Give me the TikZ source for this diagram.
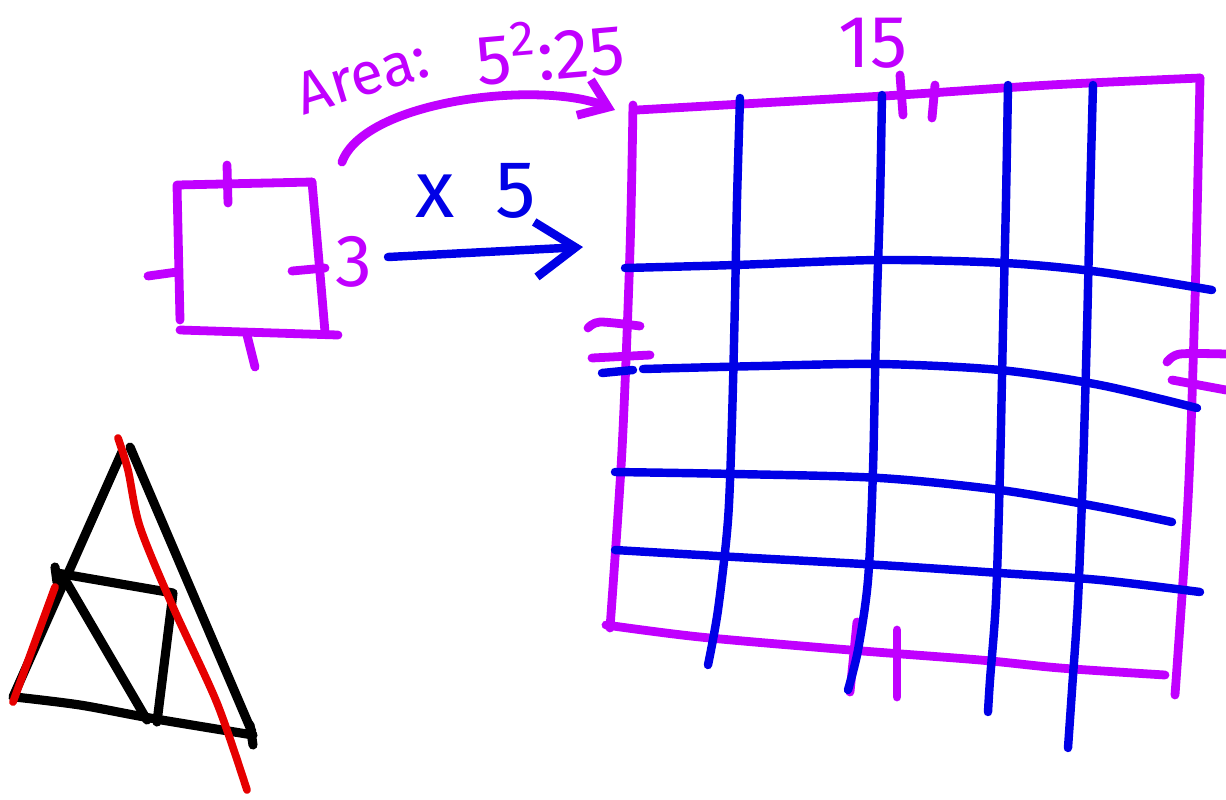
\documentclass[tikz,border=0pt]{standalone}
\usepackage{fontspec}
\setmainfont{Fira Sans}
\usetikzlibrary{arrows.meta, positioning}
\definecolor{penmagenta}{RGB}{192, 0, 255}
\definecolor{penblue}{RGB}{0, 0, 230}
\definecolor{penred}{RGB}{230, 0, 0}

\begin{document}
\begin{tikzpicture}[x=0.01cm, y=-0.01cm,
    magpen/.style={draw=penmagenta, line width=2.5pt, line cap=round, line join=round},
    bluepen/.style={draw=penblue, line width=2.4pt, line cap=round, line join=round},
    blackpen/.style={draw=black, line width=2.6pt, line cap=round, line join=round},
    redpen/.style={draw=penred, line width=2.2pt, line cap=round, line join=round},
    handtext/.style={inner sep=0pt}]
    \useasboundingbox (0,0) rectangle (1226,799);

    % Small Square
    \draw[magpen] (180,320) -- (177,185) -- (312,182);
    \draw[magpen] plot[smooth] coordinates {(312,182) (318,250) (325,332)};
    \draw[magpen] (180,330) -- (338,335);
    \draw[magpen] (227,165) -- (228,203);
    \draw[magpen] (148,276) -- (177,272);
    \draw[magpen] (292,271) -- (325,268);
    \draw[magpen] (247,335) -- (255,367);
    \node[handtext, text=penmagenta, font=\fontsize{21}{21}\selectfont] (sideshort) at (354,262) {3};

    % Scale Arrow
    \coordinate (sqright) at (388,257);
    \coordinate (gridleft) at (583,247);
    \draw[bluepen, -{Straight Barb[length=4mm, width=5.5mm]}] (sqright) -- (gridleft);
    \node[handtext, text=penblue, font=\fontsize{23}{23}\selectfont] (factor) at (476,191) {x\enspace 5};

    % Area Arrow
    \coordinate (arcstart) at (342,162);
    \coordinate (arcend) at (615,110);
    \draw[magpen, -{Straight Barb[length=2.6mm, width=3.8mm]}] (arcstart) .. controls (365,100) and (540,80) .. (arcend);
    \node[handtext, text=penmagenta, rotate=17, font=\fontsize{17}{17}\selectfont] (arealabel) at (362,76) {Area:};
    \node[handtext, text=penmagenta, rotate=5, font=\fontsize{20}{20}\selectfont] (areavalue) at (550,50) {5\textsuperscript{2}:25};

    % Big Grid Frame
    \draw[magpen] plot[smooth] coordinates {(637,110) (760,103) (900,95) (1050,85) (1200,78)};
    \draw[magpen] plot[smooth] coordinates {(633,105) (630,250) (622,450) (610,628)};
    \draw[magpen] plot[smooth] coordinates {(606,625) (700,637) (850,650) (980,660) (1060,668) (1165,675)};
    \draw[magpen] plot[smooth] coordinates {(1200,78) (1195,300) (1188,500) (1175,695)};
    \node[handtext, text=penmagenta, font=\fontsize{21}{21}\selectfont] (sidelong) at (873,43) {15};

    % Grid Ticks
    \draw[magpen] (900,75) -- (903,115);
    \draw[magpen] (935,85) -- (932,118);
    \draw[magpen] plot[smooth] coordinates {(588,328) (600,322) (640,326)};
    \draw[magpen] (592,358) -- (650,355);
    \draw[magpen] plot[smooth] coordinates {(1167,362) (1180,354) (1226,354)};
    \draw[magpen] (1172,380) -- (1226,390);
    \draw[magpen] (857,622) -- (850,692);
    \draw[magpen] (897,630) -- (897,697);

    % Blue Grid Lines
    \draw[bluepen] plot[smooth] coordinates {(740,98) (737,200) (735,300) (732,420) (728,520) (718,610) (708,665)};
    \draw[bluepen] plot[smooth] coordinates {(882,95) (880,200) (876,330) (873,470) (868,580) (858,650) (848,690)};
    \draw[bluepen] plot[smooth] coordinates {(1008,85) (1006,200) (1003,330) (1000,470) (996,600) (990,680) (988,712)};
    \draw[bluepen] plot[smooth] coordinates {(1093,85) (1090,200) (1087,330) (1083,470) (1078,600) (1072,690) (1068,748)};
    \draw[bluepen] plot[smooth] coordinates {(625,268) (735,265) (880,260) (1005,263) (1100,272) (1212,290)};
    \draw[bluepen] (602,373) -- (633,370);
    \draw[bluepen] plot[smooth] coordinates {(643,369) (760,366) (880,364) (1000,370) (1100,385) (1197,408)};
    \draw[bluepen] plot[smooth] coordinates {(615,472) (735,474) (880,478) (1000,490) (1100,507) (1172,522)};
    \draw[bluepen] plot[smooth] coordinates {(615,550) (735,557) (880,565) (1000,573) (1100,580) (1200,592)};

    % Triangle
    \draw[blackpen] (122,452) -- (13,697);
    \draw[blackpen] (130,447) -- (252,732);
    \draw[blackpen] plot[smooth] coordinates {(15,697) (80,705) (150,718) (253,735)};
    \draw[blackpen] (250,725) -- (253,745);
    \draw[blackpen] (55,567) -- (57,582);
    \draw[blackpen] (57,573) -- (173,593) -- (157,722);
    \draw[blackpen] (67,583) -- (147,720);
    \draw[redpen] plot[smooth] coordinates {(118,438) (128,470) (140,527) (173,607) (217,703) (247,790)};
    \draw[redpen] (55,587) -- (13,702);
\end{tikzpicture}
\end{document}
